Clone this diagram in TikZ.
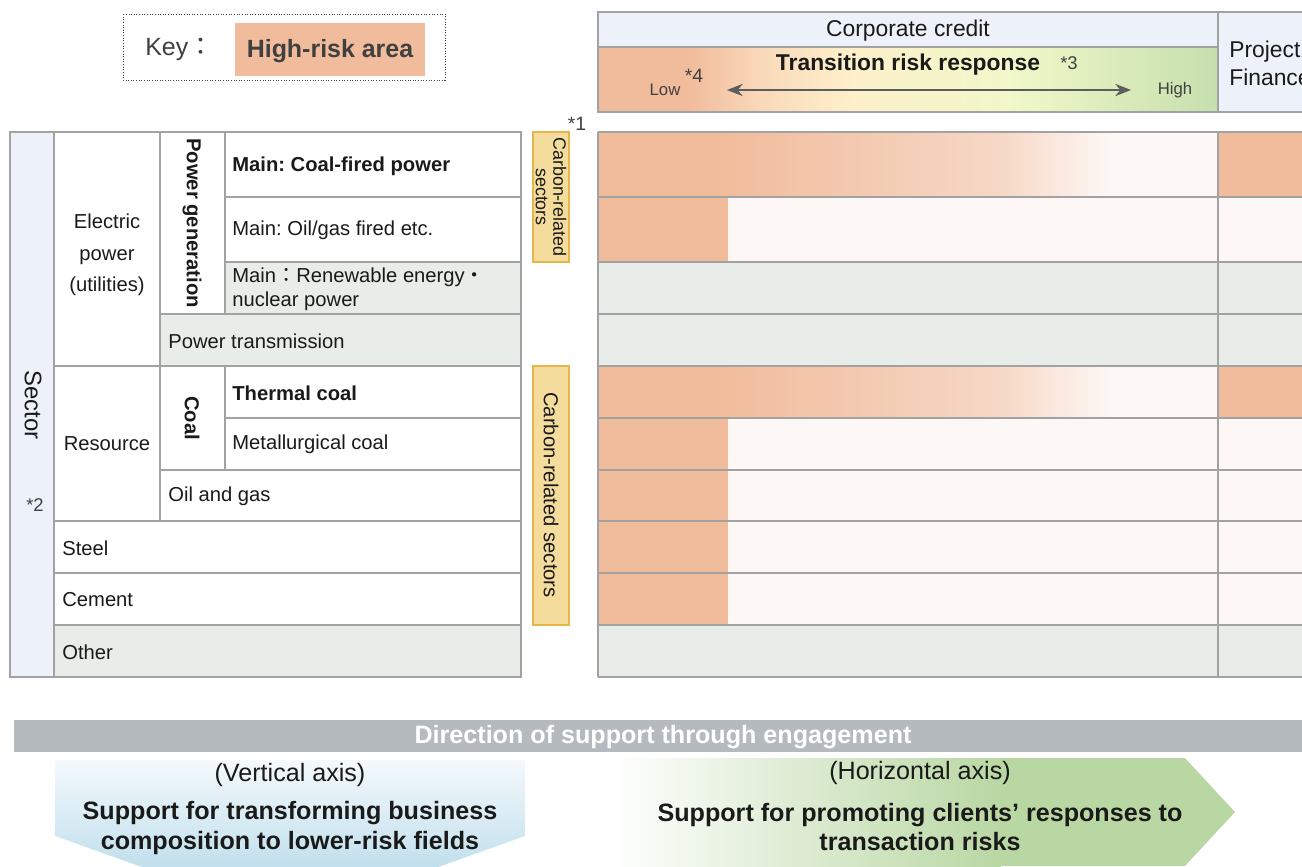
\documentclass[tikz,border=0pt]{standalone}
\usepackage{fontspec}
\setmainfont{Liberation Sans}
\newfontfamily\cjk{Noto Sans CJK JP}
\usetikzlibrary{arrows.meta}
\frenchspacing

\definecolor{hirisk}{HTML}{F1BC9C}
\definecolor{palerisk}{HTML}{FDF8F5}
\definecolor{lowrow}{HTML}{E9EDE9}
\definecolor{sectorblue}{HTML}{EDF2FA}
\definecolor{carbonfill}{HTML}{F3DC9C}
\definecolor{carbonline}{HTML}{E4B64C}
\definecolor{gridline}{HTML}{A2A2A2}
\definecolor{ink}{HTML}{1A1A1A}
\definecolor{keyink}{HTML}{404040}
\definecolor{barfill}{HTML}{B4BABD}
\definecolor{peach}{HTML}{F9D9BA}
\definecolor{cream}{HTML}{FDF0CA}
\definecolor{lime}{HTML}{F1F8C9}
\definecolor{sage}{HTML}{C6DFAE}
\definecolor{fade}{HTML}{F6D8C6}
\definecolor{skytop}{HTML}{F4F9FC}
\definecolor{skybot}{HTML}{A9D3E6}
\definecolor{leaf}{HTML}{B9D7A3}

\begin{document}
\begin{tikzpicture}
        [x=0.02cm, y=-0.02cm,
        cell/.style={draw=gridline, line width=0.8pt},
        carbon/.style={draw=carbonline, fill=carbonfill, line width=0.9pt},
        txt/.style={anchor=west, inner sep=0, text=ink, font=\fontsize{11.5}{13.6}\selectfont},
        bold/.style={txt, font=\fontsize{11.5}{13.6}\selectfont\bfseries},
        head/.style={inner sep=0, text=ink, font=\fontsize{13}{16}\selectfont},
        note/.style={inner sep=0, text=keyink, font=\fontsize{10.5}{12}\selectfont},
        big/.style={inner sep=0, text=ink, align=center, font=\fontsize{14.3}{17}\selectfont}]

        \useasboundingbox (0,0) rectangle (1302,866);

        % key
        \draw[keyink, densely dotted, line width=0.5pt] (123,14) rectangle (445,80);
        \fill[hirisk] (235,23) rectangle (425,76);
        \node[inner sep=0, anchor=west, text=keyink, font=\fontsize{14.2}{16}\selectfont] (key) at (145,49) {Key{\cjk ：}};
        \node[inner sep=0, text=keyink, font=\fontsize{14.2}{16}\selectfont\bfseries] (keyarea) at (330,51) {High-risk area};

        % header
        \draw[cell, fill=sectorblue] (598,12) rectangle (1218,47);
        \draw[cell, fill=sectorblue] (1218,12) rectangle (1330,112);
        \fill[hirisk] (598,47) rectangle (691,112);
        \shade[left color=hirisk, right color=peach] (690,47) rectangle (761,112);
        \shade[left color=peach, right color=cream] (760,47) rectangle (851,112);
        \shade[left color=cream, right color=lime] (850,47) rectangle (1011,112);
        \shade[left color=lime, right color=sage] (1010,47) rectangle (1218,112);
        \draw[cell] (598,47) rectangle (1218,112);

        \node[head] (corp) at (908,31) {Corporate credit};
        \node[head, anchor=west, align=left, font=\fontsize{13}{15.9}\selectfont] (pf) at (1229,63) {Project\\Finance};
        \node[head, font=\fontsize{13}{16}\selectfont\bfseries] (trans) at (908,65) {Transition risk response};
        \node[note] (n3) at (1069,63) {*3};
        \node[note, font=\fontsize{9.5}{11}\selectfont] (low) at (665,90) {Low};
        \node[note, font=\fontsize{11}{12}\selectfont] (n4) at (694,76) {*4};
        \node[note, font=\fontsize{9.5}{11}\selectfont] (high) at (1175,90) {High};
        \coordinate (lowend) at (727,90);
        \coordinate (highend) at (1131,90);
        \draw[{Stealth[length=9pt,width=7pt]}-{Stealth[length=9pt,width=7pt]}, keyink!85, line width=0.8pt] (lowend) -- (highend);

        % sector table
        \draw[cell, fill=sectorblue] (10,132) rectangle (54,677);
        \draw[cell, fill=white] (54,132) rectangle (160,366);
        \draw[cell, fill=white] (160,132) rectangle (225,314);
        \draw[cell, fill=white] (225,132) rectangle (521,197);
        \draw[cell, fill=white] (225,197) rectangle (521,262);
        \draw[cell, fill=lowrow] (225,262) rectangle (521,314);
        \draw[cell, fill=lowrow] (160,314) rectangle (521,366);
        \draw[cell, fill=white] (54,366) rectangle (160,521);
        \draw[cell, fill=white] (160,366) rectangle (225,470);
        \draw[cell, fill=white] (225,366) rectangle (521,418);
        \draw[cell, fill=white] (225,418) rectangle (521,470);
        \draw[cell, fill=white] (160,470) rectangle (521,521);
        \draw[cell, fill=white] (54,521) rectangle (521,573);
        \draw[cell, fill=white] (54,573) rectangle (521,625);
        \draw[cell, fill=lowrow] (54,625) rectangle (521,677);

        \node[inner sep=0, text=ink, rotate=-90, font=\fontsize{13.6}{16}\selectfont] (sector) at (33,405) {Sector};
        \node[note] (n2) at (35,505) {*2};
        \node[inner sep=0, text=ink, align=center, font=\fontsize{11.5}{17.9}\selectfont] (elec) at (107,255) {Electric\\power\\(utilities)};
        \node[inner sep=0, text=ink, rotate=-90, font=\fontsize{11.5}{13.6}\selectfont\bfseries] (gen) at (192,223) {Power generation};
        \node[bold] (coalfired) at (232,166) {Main: Coal-fired power};
        \node[txt] (oilfired) at (232,230) {Main: Oil/gas fired etc.};
        \node[txt, align=left, font=\fontsize{11.5}{13.6}\selectfont] (renew) at (232,289) {Main{\cjk ：}Renewable energy{\cjk ・}\\nuclear power};
        \node[txt] (grid) at (168,341) {Power transmission};
        \node[inner sep=0, text=ink, font=\fontsize{11.5}{13.6}\selectfont] (resource) at (107,444) {Resource};
        \node[inner sep=0, text=ink, rotate=-90, font=\fontsize{11.5}{13.6}\selectfont\bfseries] (coal) at (192,418) {Coal};
        \node[bold] (thermal) at (232,393) {Thermal coal};
        \node[txt] (metal) at (232,444) {Metallurgical coal};
        \node[txt] (oilgas) at (168,496) {Oil and gas};
        \node[txt] (steel) at (62,548) {Steel};
        \node[txt] (cement) at (62,600) {Cement};
        \node[txt] (other) at (62,652) {Other};

        % carbon-related labels
        \draw[carbon] (533,132) rectangle (569,262);
        \node[inner sep=0, text=ink, rotate=-90, align=center, font=\fontsize{10.2}{10}\selectfont] (carbon1) at (551,197) {Carbon-related\\sectors};
        \node[note, font=\fontsize{11}{12}\selectfont] (n1) at (577,124) {*1};
        \draw[carbon] (533,366) rectangle (569,625);
        \node[inner sep=0, text=ink, rotate=-90, font=\fontsize{11.5}{13.6}\selectfont] (carbon2) at (551,495) {Carbon-related sectors};

        % risk matrix
        \fill[hirisk] (598,132) rectangle (721,197);
        \shade[left color=hirisk, right color=fade] (720,132) rectangle (1001,197);
        \shade[left color=fade, right color=palerisk] (1000,132) rectangle (1111,197);
        \fill[palerisk] (1110,132) rectangle (1218,197);
        \fill[hirisk] (1218,132) rectangle (1330,197);
        \fill[palerisk] (598,197) rectangle (1330,262);
        \fill[hirisk] (598,197) rectangle (728,262);
        \fill[lowrow] (598,262) rectangle (1330,366);
        \fill[hirisk] (598,366) rectangle (721,418);
        \shade[left color=hirisk, right color=fade] (720,366) rectangle (1001,418);
        \shade[left color=fade, right color=palerisk] (1000,366) rectangle (1111,418);
        \fill[palerisk] (1110,366) rectangle (1218,418);
        \fill[hirisk] (1218,366) rectangle (1330,418);
        \fill[palerisk] (598,418) rectangle (1330,625);
        \fill[hirisk] (598,418) rectangle (728,625);
        \fill[lowrow] (598,625) rectangle (1330,677);
        \foreach \y in {132,197,262,314,366,418,470,521,573,625,677}
          \draw[cell] (598,\y) -- (1330,\y);
        \draw[cell] (598,132) -- (598,677);
        \draw[cell] (1218,132) -- (1218,677);

        % engagement
        \fill[barfill] (14,720) rectangle (1330,752);
        \node[inner sep=0, text=white, font=\fontsize{14.3}{17}\selectfont\bfseries] (engage) at (663,737) {Direction of support through engagement};

        \shade[top color=skytop, bottom color=skybot] (55,760) -- (525,760) -- (525,836) -- (290,920) -- (55,836) -- cycle;
        \node[big] (vaxis) at (290,775) {(Vertical axis)};
        \node[big, font=\fontsize{14.3}{17}\selectfont\bfseries] (vtext) at (290,828) {Support for transforming business\\composition to lower-risk fields};

        \shade[left color=white, right color=leaf] (610,758) rectangle (1001,866);
        \fill[leaf] (1000,758) -- (1185,758) -- (1235,812) -- (1185,866) -- (1000,866) -- cycle;
        \node[big] (haxis) at (920,773) {(Horizontal axis)};
        \node[big, font=\fontsize{14.3}{17}\selectfont\bfseries] (htext) at (920,827) {Support for promoting clients’ responses to\\transaction risks};

      \end{tikzpicture}
\end{document}
